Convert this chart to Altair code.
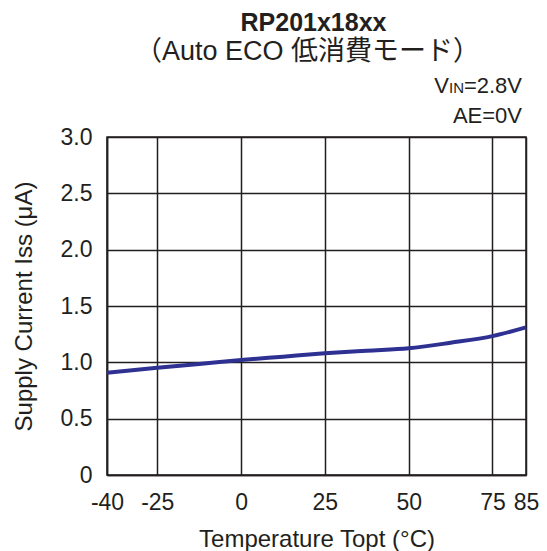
import altair as alt
import pandas as pd

temps = [-40, -25, -12.5, 0, 12.5, 25, 37.5, 50, 62.5, 75, 85]
current = [0.908, 0.952, 0.985, 1.02, 1.05, 1.08, 1.103, 1.124, 1.174, 1.233, 1.31]
x_ticks = [-40, -25, 0, 25, 50, 75, 85]
y_ticks = [0, 0.5, 1.0, 1.5, 2.0, 2.5, 3.0]

FONT = "Liberation Sans, Arial, 'Noto Sans CJK JP', sans-serif"
W, H = 419, 338

df = pd.DataFrame({"t": temps, "i": current})

base = alt.Chart(df)

line = base.mark_line(color="#2e3192", strokeWidth=4, interpolate="monotone").encode(
    x=alt.X("t:Q", scale=alt.Scale(domain=[-40, 85], nice=False, zero=False),
            axis=alt.Axis(values=x_ticks, title="Temperature Topt (°C)", grid=True,
                          ticks=False, labelPadding=16, titlePadding=13,
                          labelFlush=False, labelExpr="datum.value + ''")),
    y=alt.Y("i:Q", scale=alt.Scale(domain=[0, 3], nice=False),
            axis=alt.Axis(values=y_ticks, title="Supply Current Iss (μA)", grid=True,
                          ticks=False, labelPadding=15, titlePadding=24,
                          labelExpr="datum.value == 0 ? '0' : format(datum.value, '.1f')")),
)

def txt(s, x, y, size, weight="normal", align="center"):
    return alt.Chart(pd.DataFrame({"s": [s]})).mark_text(
        font=FONT, fontSize=size, fontWeight=weight, align=align, baseline="alphabetic",
        color="#231f20"
    ).encode(text="s:N", x=alt.value(x), y=alt.value(y))

cx = W / 2
title = txt("RP201x18xx", cx - 3, -106, 25, "bold")
subtitle = txt("（Auto ECO 低消費モード）", cx - 9, -77, 27)
v_eq = txt("=2.8V", 415, -44, 22, align="right")
v_in = txt("IN", 415 - 58, -44, 15, align="right")
v_v = txt("V", 415 - 58 - 15, -44, 22, align="right")
ae = txt("AE=0V", 415, -14, 22, align="right")

chart = alt.layer(line, title, subtitle, v_eq, v_in, v_v, ae).properties(
    width=W, height=H,
    autosize=alt.AutoSizeParams(type="none"),
    padding={"left": 99, "top": 129, "right": 13, "bottom": 80},
).configure_axis(
    labelFont=FONT, titleFont=FONT, labelFontSize=23, titleFontSize=24,
    labelColor="#231f20", titleColor="#231f20", titleFontWeight="normal",
    gridColor="#231f20", gridWidth=1.5, gridOpacity=1,
    domainColor="#231f20", domainWidth=1.5,
).configure_view(stroke="#231f20", strokeWidth=1.5)

chart.save("out.html", embed_options={"renderer": "svg", "actions": False})
